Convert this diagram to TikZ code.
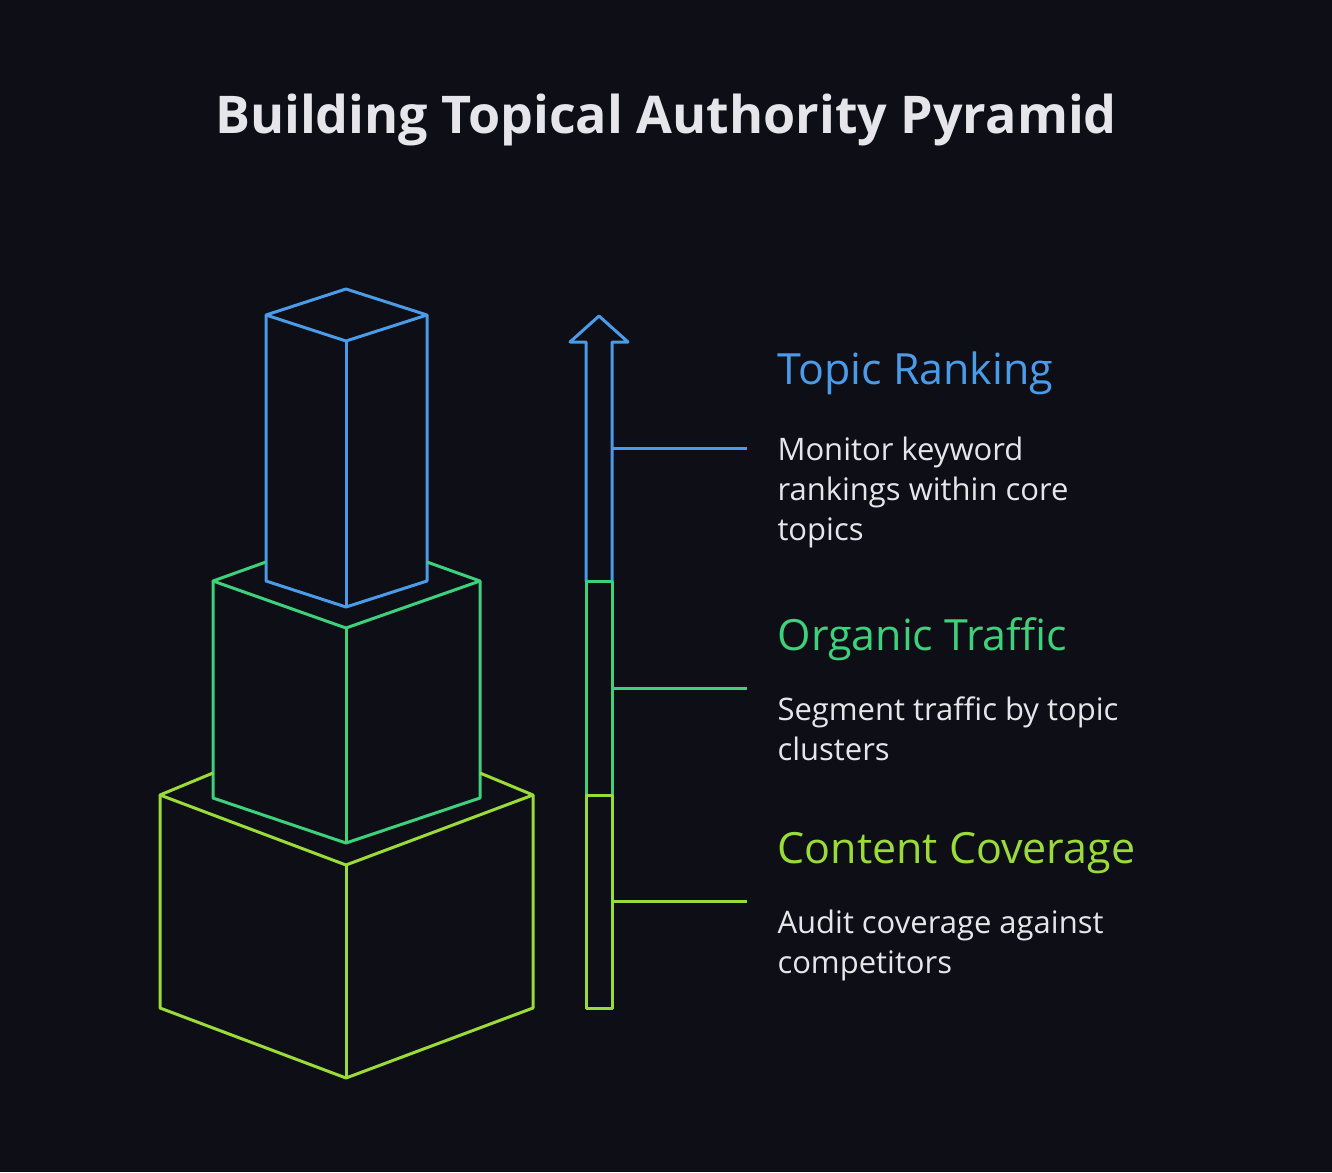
\documentclass[tikz,border=0pt]{standalone}
\usepackage{fontspec}
\setmainfont{Open Sans}
\definecolor{bg}{HTML}{0E0E16}
\definecolor{cb}{HTML}{4A9BE8}
\definecolor{cg}{HTML}{3DD17C}
\definecolor{cl}{HTML}{9ADB3A}
\definecolor{tx}{HTML}{E6E6EA}
\begin{document}
\begin{tikzpicture}[x=1pt,y=-1pt,line width=3pt,line join=round,
  ttl/.style={anchor=west,inner sep=0pt,font=\fontsize{43}{48}\selectfont},
  dsc/.style={anchor=north west,align=left,text=tx,font=\fontsize{31}{40}\selectfont,inner sep=0pt}]
\fill[bg] (0,0) rectangle (1332,1172);
\useasboundingbox (0,0) rectangle (1332,1172);
\node[text=tx,font=\bfseries\fontsize{52}{60}\selectfont] (title) at (666,120) {Building Topical Authority Pyramid};
% top box
\draw[cb] (266,315)--(346,289)--(427,315)--(346,341)--cycle;
\draw[cb] (266,315)--(266,581)--(346,607)--(427,581)--(427,315);
\draw[cb] (346,341)--(346,607);
% middle box
\draw[cg] (266,562)--(213,581)--(346,628)--(480,581)--(427,562);
\draw[cg] (213,581)--(213,798)--(346,843)--(480,798)--(480,581);
\draw[cg] (346,628)--(346,843);
% bottom box
\draw[cl] (213,773)--(160,795)--(346,865)--(533,795)--(480,773);
\draw[cl] (160,795)--(160,1008)--(346,1078)--(533,1008)--(533,795);
\draw[cl] (346,865)--(346,1078);
% bar
\draw[cb] (586,581)--(586,342)--(570,342)--(599,316)--(628,342)--(612,342)--(612,581);
\draw[cg] (586,581) rectangle (612,795);
\draw[cl] (586,795) rectangle (612,1008);
\coordinate (e1) at (747,448); \coordinate (e2) at (747,688); \coordinate (e3) at (747,901);
\draw[cb] (612,448)--(e1);
\draw[cg] (612,688)--(e2);
\draw[cl] (612,901)--(e3);
\node[ttl,text=cb] (t1) at (776,373) {Topic Ranking};
\node[ttl,text=cg] (t2) at (776,639) {Organic Traffic};
\node[ttl,text=cl] (t3) at (776,853) {Content Coverage};
\node[dsc] (d1) at (776,435) {Monitor keyword\\rankings within core\\topics};
\node[dsc] (d2) at (776,695) {Segment traffic by topic\\clusters};
\node[dsc] (d3) at (776,908) {Audit coverage against\\competitors};
\end{tikzpicture}
\end{document}
